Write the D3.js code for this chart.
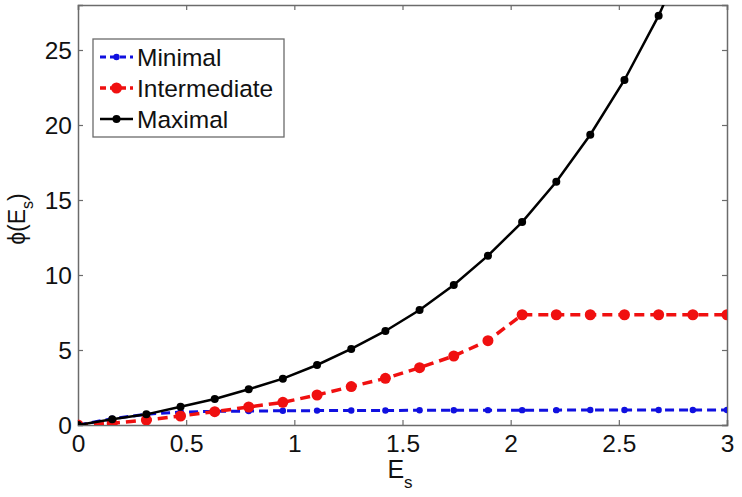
<!DOCTYPE html>
<html><head><meta charset="utf-8">
<script src="https://cdn.jsdelivr.net/npm/d3@7"></script>
<style>body{margin:0;background:#fff;} text{font-family:"Liberation Sans",Arial,sans-serif;}</style>
</head><body>
<svg id="c" width="742" height="497"></svg>
<script>
const xs = [0,0.158,0.316,0.474,0.632,0.789,0.947,1.105,1.263,1.421,1.579,1.737,1.895,2.053,2.211,2.368,2.526,2.684,2.842,3.0];
const minimal = [0,0.42,0.72,0.86,0.91,0.93,0.95,0.96,0.97,0.97,0.98,0.98,0.99,0.99,0.99,1.0,1.0,1.0,1.0,1.0];
const intermediate = [0,0.11,0.33,0.6,0.89,1.2,1.51,2.0,2.56,3.11,3.82,4.6,5.62,7.35,7.35,7.35,7.35,7.35,7.35,7.35];
const maximal = [0,0.38,0.71,1.22,1.73,2.38,3.09,4.0,5.07,6.27,7.67,9.33,11.29,13.53,16.22,19.35,23.0,27.29,32.4,38.4];
const xTicks = [0,0.5,1,1.5,2,2.5,3];
const yTicks = [0,5,10,15,20,25];
const seriesNames = ["Minimal","Intermediate","Maximal"];

const svg = d3.select("#c");
const L=78,R=727,T=5,B=425;
const x = d3.scaleLinear().domain([0,3]).range([L,R]);
const y = d3.scaleLinear().domain([0,28]).range([B,T]);
const axisCol="#6b6b6b";

svg.append("defs").append("clipPath").attr("id","clip").append("rect")
  .attr("x",L).attr("y",T).attr("width",R-L).attr("height",B-T);

const fs=24.5;
const gx = svg.append("g").attr("transform",`translate(0,${B})`)
  .call(d3.axisBottom(x).tickValues(xTicks).tickSize(-5).tickPadding(10).tickFormat(d3.format("")));
const gxt = svg.append("g").attr("transform",`translate(0,${T})`)
  .call(d3.axisTop(x).tickValues(xTicks).tickSize(-5).tickFormat(""));
const gy = svg.append("g").attr("transform",`translate(${L},0)`)
  .call(d3.axisLeft(y).tickValues(yTicks).tickSize(-5).tickPadding(6));
const gyr = svg.append("g").attr("transform",`translate(${R},0)`)
  .call(d3.axisRight(y).tickValues(yTicks).tickSize(-5).tickFormat(""));
[gx,gxt,gy,gyr].forEach(g=>{
  g.select(".domain").attr("stroke",axisCol).attr("stroke-width",1.5);
  g.selectAll(".tick line").attr("stroke",axisCol).attr("stroke-width",1.2);
  g.selectAll("text").attr("font-size",fs).attr("fill","#111").attr("font-family","Liberation Sans, Arial, sans-serif");
});
gx.selectAll("text").attr("dy","0.71em");
gy.selectAll("text").attr("dy","0.36em");

// axis labels
const xl = svg.append("text").attr("x",400).attr("y",478).attr("text-anchor","middle").attr("font-size",25).attr("fill","#111");
xl.append("tspan").text("E");
xl.append("tspan").attr("font-size",17).attr("dy",10).text("s");
const yl = svg.append("text").attr("transform",`translate(25,219) rotate(-90)`).attr("text-anchor","middle").attr("font-size",23).attr("fill","#111");
yl.append("tspan").text("ϕ(E");
yl.append("tspan").attr("font-size",16).attr("dy",8).text("s");
yl.append("tspan").attr("dy",-8).text(")");

const series = [
  {name:seriesNames[0], vals:minimal, color:"#1010e0", w:3, dash:"9,5", r:3.2},
  {name:seriesNames[1], vals:intermediate, color:"#f01010", w:3.5, dash:"10,6", r:5.5},
  {name:seriesNames[2], vals:maximal, color:"#000", w:2.5, dash:null, r:4}
];
const plot = svg.append("g").attr("clip-path","url(#clip)");
const line = d3.line().x((d,i)=>x(xs[i])).y(d=>y(d));
series.forEach(s=>{
  plot.append("path").datum(s.vals).attr("d",line).attr("fill","none")
    .attr("stroke",s.color).attr("stroke-width",s.w).attr("stroke-dasharray",s.dash);
  plot.selectAll(null).data(s.vals).enter().append("circle")
    .attr("cx",(d,i)=>x(xs[i])).attr("cy",d=>y(d)).attr("r",s.r).attr("fill",s.color);
});

// legend
const lg = svg.append("g");
lg.append("rect").attr("x",93).attr("y",39).attr("width",191).attr("height",98)
  .attr("fill","#fff").attr("stroke",axisCol).attr("stroke-width",1.3);
series.forEach((s,i)=>{
  const yy = 57 + i*31;
  lg.append("line").attr("x1",100).attr("x2",133).attr("y1",yy).attr("y2",yy)
    .attr("stroke",s.color).attr("stroke-width",s.w).attr("stroke-dasharray",s.dash?"6,4":null);
  lg.append("circle").attr("cx",116.5).attr("cy",yy).attr("r",s.r).attr("fill",s.color);
  lg.append("text").attr("x",137).attr("y",yy).attr("dy","0.36em").attr("font-size",fs).attr("fill","#111").text(s.name);
});
</script>
</body></html>
